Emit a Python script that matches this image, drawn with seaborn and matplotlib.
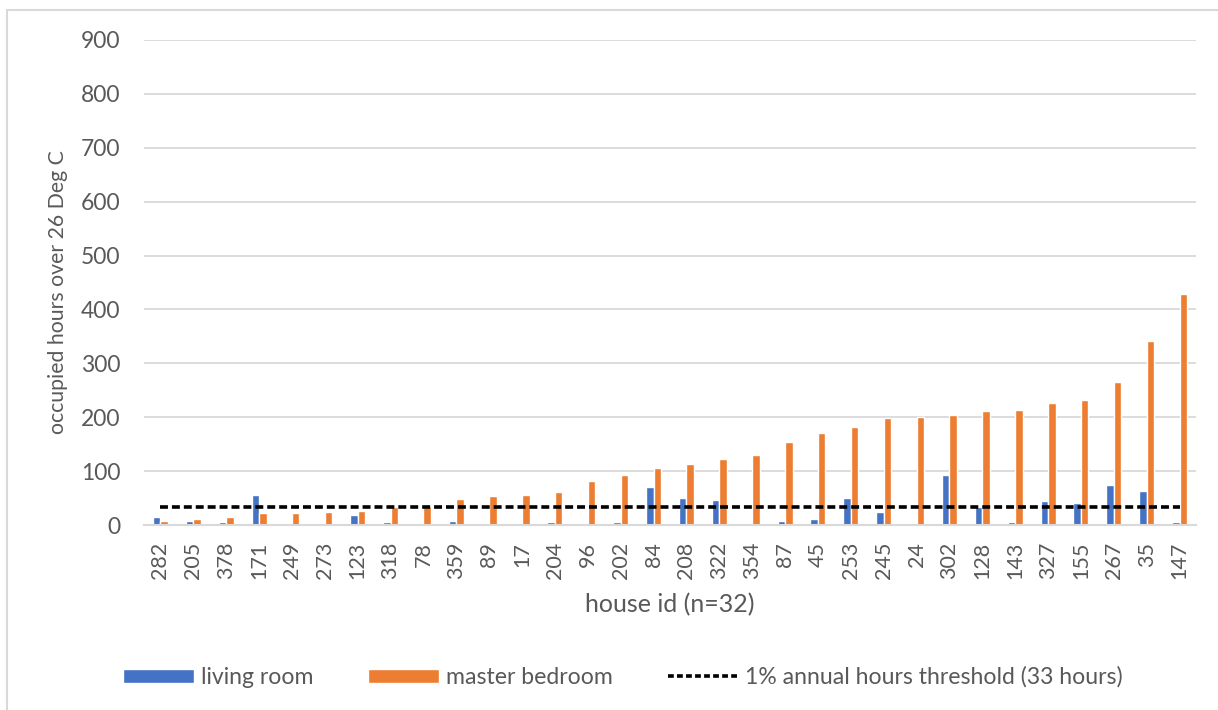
import matplotlib
matplotlib.use("Agg")
import matplotlib.pyplot as plt
import seaborn as sns
import pandas as pd
from matplotlib.patches import Rectangle, Patch
from matplotlib.lines import Line2D

# data
house_ids = ['282', '205', '378', '171', '249', '273', '123', '318', '78', '359', '89', '17',
             '204', '96', '202', '84', '208', '322', '354', '87', '45', '253', '245', '24',
             '302', '128', '143', '327', '155', '267', '35', '147']
living_room = [15, 8, 5, 56, 0, 0, 18, 5, 0, 7, 2, 0,
               5, 0, 5, 71, 51, 47, 1, 8, 11, 51, 25, 0,
               93, 33, 5, 45, 41, 75, 64, 5]
master_bedroom = [7, 12, 14, 23, 23, 24, 26, 34, 36, 49, 54, 56,
                  62, 81, 92, 105, 114, 122, 130, 154, 171, 182, 199, 200,
                  205, 211, 214, 227, 232, 266, 342, 428]
threshold = 33

rooms = ['living room', 'master bedroom']
colors = ['#4472C4', '#ED7D31']
text_col = '#595959'
grid_col = '#D9D9D9'

df = pd.DataFrame({
    'house': house_ids * 2,
    'room': [rooms[0]] * len(house_ids) + [rooms[1]] * len(house_ids),
    'hours': living_room + master_bedroom,
})

sns.set_style('white')
plt.rcParams['font.family'] = ['Lato', 'DejaVu Sans']

fig = plt.figure(figsize=(12.18, 7.10), dpi=100)
ax = fig.add_axes([144 / 1218, 1 - 525 / 710, (1196 - 144) / 1218, (525 - 40) / 710])

sns.barplot(data=df, x='house', y='hours', hue='room', order=house_ids, hue_order=rooms,
            palette=colors, width=0.46, gap=0, saturation=1, legend=False, ax=ax, zorder=2)
ax.plot(range(len(house_ids)), [threshold] * len(house_ids), color='black',
        linestyle=(0, (2.2, 1.1)), linewidth=2.6, zorder=3)

ax.set_ylim(0, 900)
ax.set_xlim(-0.5, len(house_ids) - 0.5)
ax.set_yticks(range(0, 901, 100))
ax.yaxis.grid(True, color=grid_col, linewidth=1.3, zorder=0)
ax.set_axisbelow(True)
for s in ['top', 'right', 'left']:
    ax.spines[s].set_visible(False)
ax.spines['bottom'].set_color(grid_col)
ax.spines['bottom'].set_linewidth(1.5)
ax.tick_params(axis='both', length=0, labelcolor=text_col)
ax.tick_params(axis='y', pad=17, labelsize=16.5)
ax.tick_params(axis='x', pad=12, labelsize=15.5)
plt.setp(ax.get_xticklabels(), rotation=90)

ax.set_xlabel('house id (n=32)', fontsize=18, color=text_col)
ax.set_ylabel('occupied hours over 26 Deg C', fontsize=15.3, color=text_col)
ax.xaxis.set_label_coords(0.5, -(593 - 525) / 485)
ax.yaxis.set_label_coords((68 - 144) / 1052, (525 - 292) / 485)

# legend below the chart
handles = [Patch(facecolor=colors[0]), Patch(facecolor=colors[1]),
           Line2D([0], [0], color='black', linestyle=(0, (1.6, 0.9)), linewidth=2.6)]
labels = rooms + ['1% annual hours threshold (33 hours)']
leg = fig.legend(handles, labels, loc='center', bbox_to_anchor=(623 / 1218, 1 - 677 / 710),
                 ncol=3, frameon=False, fontsize=16.6, handlelength=3.05, handleheight=0.56,
                 columnspacing=2.4, handletextpad=0.3)
for t in leg.get_texts():
    t.set_color(text_col)

# chart border
fig.patches.append(Rectangle((7 / 1218, -0.1), 1.2, 1 - 10 / 710 + 0.1, transform=fig.transFigure,
                             fill=False, edgecolor=grid_col, linewidth=1.5))

fig.savefig('out.png', dpi=100)
